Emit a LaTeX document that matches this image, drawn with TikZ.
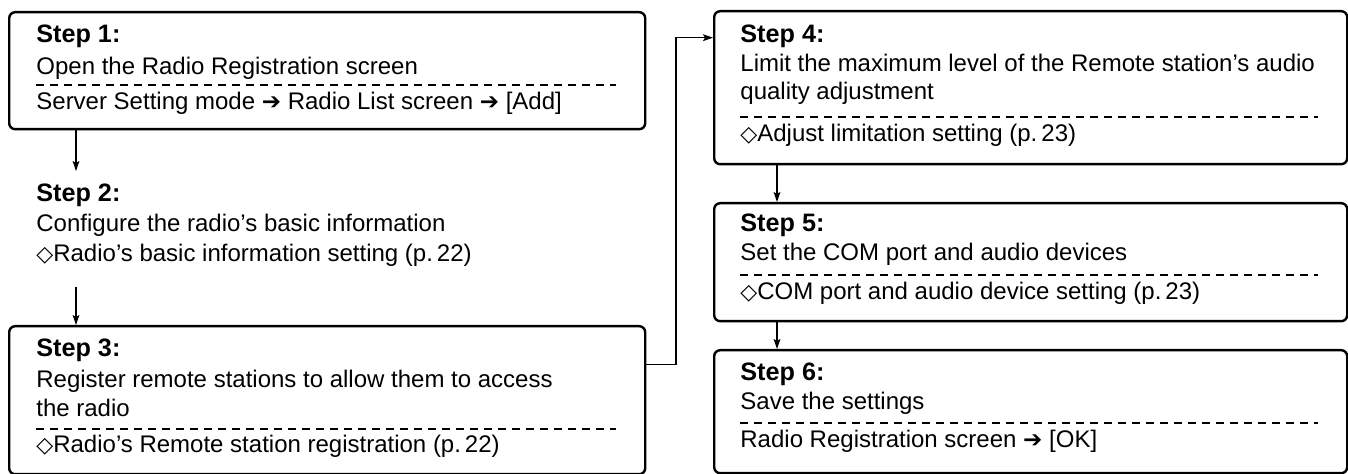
\documentclass[tikz,border=0pt]{standalone}
\usepackage{fontspec}
\setmainfont{Liberation Sans}
\newfontfamily\symfont{DejaVu Sans}
\usetikzlibrary{arrows.meta, positioning}

\newcommand{\diam}{{\symfont\bfseries\fontsize{11}{12}\selectfont ◇}}
\newcommand{\rarr}{{\symfont\fontsize{11.5}{12}\selectfont ➔}}

\begin{document}
\begin{tikzpicture}[
        x=0.5pt, y=-0.5pt,
        font=\fontsize{12}{14.4}\selectfont,
        stepbox/.style={draw, line width=1.2pt, rounded corners=3pt, anchor=north west, inner sep=0pt},
        title/.style={anchor=base west, inner sep=0pt, font=\fontsize{12.6}{14.4}\selectfont\bfseries},
        body/.style={anchor=base west, inner sep=0pt},
        divider/.style={line width=0.7pt, dash pattern=on 4pt off 3pt},
        arrow/.style={-{Stealth[length=5pt, width=3.4pt, inset=1pt]}, line width=0.6pt}
    ]
    \useasboundingbox (0,0) rectangle (1348,474);

    % Boxes
    \node[stepbox, minimum width=318pt, minimum height=58.5pt] (s1) at (8,11) {};
    \node[stepbox, minimum width=318pt, minimum height=74pt] (s3) at (8,325) {};
    \node[stepbox, minimum width=316.5pt, minimum height=76.5pt] (s4) at (713,10) {};
    \node[stepbox, minimum width=316.5pt, minimum height=59pt] (s5) at (713,202) {};
    \node[stepbox, minimum width=316.5pt, minimum height=61.5pt] (s6) at (713,349) {};

    % Step 1
    \node[title] (s1t) at (36,43) {Step 1:};
    \node[body] (s1a) at (36,75) {Open the Radio Registration screen};
    \draw[divider] (36,85) -- (616,85);
    \node[body] (s1b) at (36,110) {Server Setting mode \rarr{} Radio List screen \rarr{} [Add]};

    % Step 2
    \node[title] (s2t) at (36,202) {Step 2:};
    \node[body] (s2a) at (36,232) {Configure the radio’s basic information};
    \node[body] (s2b) at (36,262) {\diam Radio’s basic information setting (p.\,22)};

    % Step 3
    \node[title] (s3t) at (36,357) {Step 3:};
    \node[body] (s3a) at (36,388) {Register remote stations to allow them to access};
    \node[body] (s3b) at (36,417) {the radio};
    \draw[divider] (36,429) -- (616,429);
    \node[body] (s3c) at (36,453) {\diam Radio’s Remote station registration (p.\,22)};

    % Step 4
    \node[title] (s4t) at (740,43) {Step 4:};
    \node[body] (s4a) at (740,72) {Limit the maximum level of the Remote station’s audio};
    \node[body] (s4b) at (740,100) {quality adjustment};
    \draw[divider] (740,117) -- (1318,117);
    \node[body] (s4c) at (740,142) {\diam Adjust limitation setting (p.\,23)};

    % Step 5
    \node[title] (s5t) at (740,232) {Step 5:};
    \node[body] (s5a) at (740,261) {Set the COM port and audio devices};
    \draw[divider] (740,275) -- (1318,275);
    \node[body] (s5b) at (740,300) {\diam COM port and audio device setting (p.\,23)};

    % Step 6
    \node[title] (s6t) at (740,381) {Step 6:};
    \node[body] (s6a) at (740,410) {Save the settings};
    \draw[divider] (740,423) -- (1318,423);
    \node[body] (s6b) at (740,448) {Radio Registration screen \rarr{} [OK]};

    % Arrows
    \coordinate (c2in) at (76,171);
    \coordinate (c2out) at (76,287);
    \coordinate (bend) at (676,200);
    \draw[arrow] (s1.south west -| c2in) -- (c2in);
    \draw[arrow] (c2out) -- (c2out |- s3.north);
    \draw[arrow] ([yshift=18pt]s3.east) -| (bend) |- ([yshift=25pt]s4.west);
    \draw[arrow] ([xshift=32pt]s4.south west) -- ([xshift=32pt]s5.north west);
    \draw[arrow] ([xshift=32pt]s5.south west) -- ([xshift=32pt]s6.north west);

\end{tikzpicture}
\end{document}
